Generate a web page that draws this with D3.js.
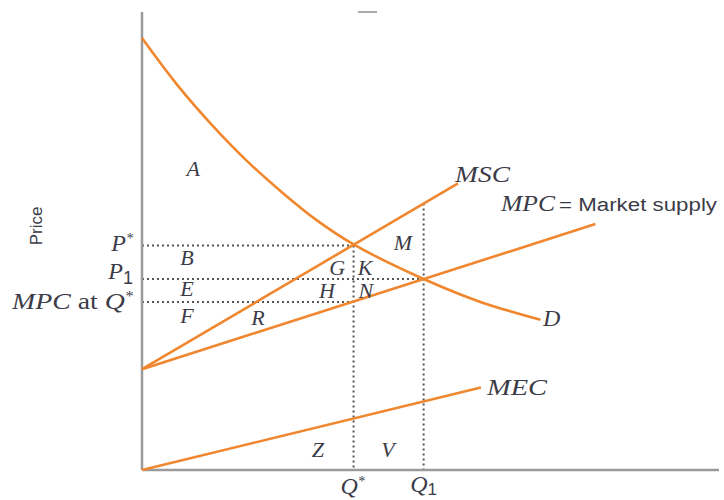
<!DOCTYPE html>
<html>
<head>
<meta charset="utf-8">
<script src="https://cdn.jsdelivr.net/npm/d3@7"></script>
<style>
  body { margin: 0; background: #fff; }
  .lbl { font-family: "Liberation Serif", "DejaVu Serif", serif; font-style: italic; fill: #3c3c48; }
  .sans { font-family: "Liberation Sans", Arial, sans-serif; font-style: normal; fill: #3c3c48; }
</style>
</head>
<body>
<div id="chart"></div>
<script>
// curve data (quantity, price)
const demandQ = [0, 7.6, 15.3, 22.9, 30.6, 38.2, 46.3, 61.5, 73.9, 87];
const demandP = [94.3, 84.2, 75.3, 67.5, 60.6, 54.5, 49.2, 41.7, 36.7, 32.8];
const mscQ = [0, 69];
const mscP = [22, 62.6];
const mpcQ = [0, 99];
const mpcP = [22, 53.7];
const mecQ = [0, 74];
const mecP = [0, 18];

// reference levels
const qStar = 46.2;
const q1 = 61.5;
const pStar = 49;
const p1 = 41.7;
const mpcAtQStar = 36.7;
const mscAtQ1 = 58.2;

// area letters [q, p]
const areaLetters = ["A", "B", "E", "F", "R", "G", "K", "H", "N", "M", "Z", "V"];
const areaQ = [11.2, 9.8, 9.8, 9.8, 25.3, 42.6, 48.7, 40.4, 48.9, 57, 38.4, 53.7];
const areaP = [65.9, 46.3, 39.7, 33.8, 33.2, 44.3, 44.3, 39.1, 39.3, 49.6, 4.4, 4.4];

const width = 724;
const height = 500;

const svg = d3.select("#chart").append("svg")
    .attr("width", width)
    .attr("height", height);

const x = d3.scaleLinear().domain([0, 126]).range([142, 719]);
const y = d3.scaleLinear().domain([0, 100]).range([470, 12]);

const orange = "#f0872f";
const dotColor = "#555";

// dotted guide lines
const dotted = [
    [[0, pStar], [qStar, pStar]],
    [[0, p1], [q1, p1]],
    [[0, mpcAtQStar], [qStar, mpcAtQStar]],
    [[qStar, pStar], [qStar, 0]],
    [[q1, mscAtQ1], [q1, 0]]
];
svg.selectAll("line.guide")
    .data(dotted)
    .enter()
    .append("line")
    .attr("class", "guide")
    .attr("x1", d => x(d[0][0]))
    .attr("y1", d => y(d[0][1]))
    .attr("x2", d => x(d[1][0]))
    .attr("y2", d => y(d[1][1]))
    .attr("stroke", dotColor)
    .attr("stroke-width", 2)
    .attr("stroke-dasharray", "2,3");

// axes (plain lines, no ticks)
svg.append("line")
    .attr("x1", x(0)).attr("y1", y(100))
    .attr("x2", x(0)).attr("y2", y(0))
    .attr("stroke", "#9a9a9a").attr("stroke-width", 2.5);
svg.append("line")
    .attr("x1", x(0)).attr("y1", y(0))
    .attr("x2", x(126)).attr("y2", y(0))
    .attr("stroke", "#9a9a9a").attr("stroke-width", 2.5);

// curves
const line = d3.line().x(d => x(d[0])).y(d => y(d[1]));
const curved = d3.line().x(d => x(d[0])).y(d => y(d[1])).curve(d3.curveCatmullRom.alpha(0.5));

const curves = [
    { pts: demandQ.map((q, i) => [q, demandP[i]]), gen: curved },
    { pts: mscQ.map((q, i) => [q, mscP[i]]), gen: line },
    { pts: mpcQ.map((q, i) => [q, mpcP[i]]), gen: line },
    { pts: mecQ.map((q, i) => [q, mecP[i]]), gen: line }
];
svg.selectAll("path.curve")
    .data(curves)
    .enter()
    .append("path")
    .attr("class", "curve")
    .attr("d", d => d.gen(d.pts))
    .attr("fill", "none")
    .attr("stroke", orange)
    .attr("stroke-width", 2.6);

// area letters
svg.selectAll("text.area")
    .data(areaLetters)
    .enter()
    .append("text")
    .attr("class", "lbl area")
    .attr("x", (d, i) => x(areaQ[i]))
    .attr("y", (d, i) => y(areaP[i]))
    .attr("text-anchor", "middle")
    .attr("dominant-baseline", "central")
    .style("font-size", "22px")
    .text(d => d);

// curve labels
svg.append("text").attr("class", "lbl").attr("x", 455).attr("y", 182)
    .attr("textLength", 55).attr("lengthAdjust", "spacingAndGlyphs")
    .style("font-size", "23px").text("MSC");
svg.append("text").attr("class", "lbl").attr("x", 501).attr("y", 211)
    .attr("textLength", 54).attr("lengthAdjust", "spacingAndGlyphs")
    .style("font-size", "23px").text("MPC");
svg.append("text").attr("class", "sans").attr("x", 559).attr("y", 211)
    .attr("textLength", 158).attr("lengthAdjust", "spacingAndGlyphs")
    .style("font-size", "18px").text("= Market supply");
svg.append("text").attr("class", "lbl").attr("x", 543).attr("y", 326)
    .style("font-size", "24px").text("D");
svg.append("text").attr("class", "lbl").attr("x", 487).attr("y", 395)
    .attr("textLength", 60).attr("lengthAdjust", "spacingAndGlyphs")
    .style("font-size", "23px").text("MEC");

// price axis labels
const pS = svg.append("text").attr("class", "lbl").attr("x", 133).attr("y", 251)
    .attr("text-anchor", "end").style("font-size", "24px");
pS.append("tspan").text("P");
pS.append("tspan").attr("dy", -8).style("font-size", "14px").text("*");

const pOne = svg.append("text").attr("class", "lbl").attr("x", 133).attr("y", 279)
    .attr("text-anchor", "end").style("font-size", "24px");
pOne.append("tspan").text("P");
pOne.append("tspan").attr("dy", 5).attr("class", "sans").style("font-size", "18px").text("1");

const mq = svg.append("text").attr("class", "lbl").attr("x", 12).attr("y", 309)
    .attr("textLength", 121).attr("lengthAdjust", "spacingAndGlyphs")
    .style("font-size", "24px");
mq.append("tspan").text("MPC");
mq.append("tspan").style("font-style", "normal").text(" at ");
mq.append("tspan").text("Q");
mq.append("tspan").attr("dy", -8).style("font-size", "14px").text("*");

// quantity labels
const qS = svg.append("text").attr("class", "lbl").attr("x", x(qStar) - 1).attr("y", 494)
    .attr("text-anchor", "middle").style("font-size", "24px");
qS.append("tspan").text("Q");
qS.append("tspan").attr("dy", -8).style("font-size", "14px").text("*");

const qOne = svg.append("text").attr("class", "lbl").attr("x", x(q1)).attr("y", 492)
    .attr("text-anchor", "middle").style("font-size", "24px");
qOne.append("tspan").text("Q");
qOne.append("tspan").attr("dy", 3).attr("class", "sans").style("font-size", "17px").text("1");

// axis title
svg.append("text")
    .attr("class", "sans")
    .attr("transform", "translate(42,226) rotate(-90)")
    .attr("text-anchor", "middle")
    .style("font-size", "17px")
    .text("Price");

// faint mark at top
svg.append("line")
    .attr("x1", 358).attr("y1", 12).attr("x2", 377).attr("y2", 12)
    .attr("stroke", "#aaa").attr("stroke-width", 2);
</script>
</body>
</html>
